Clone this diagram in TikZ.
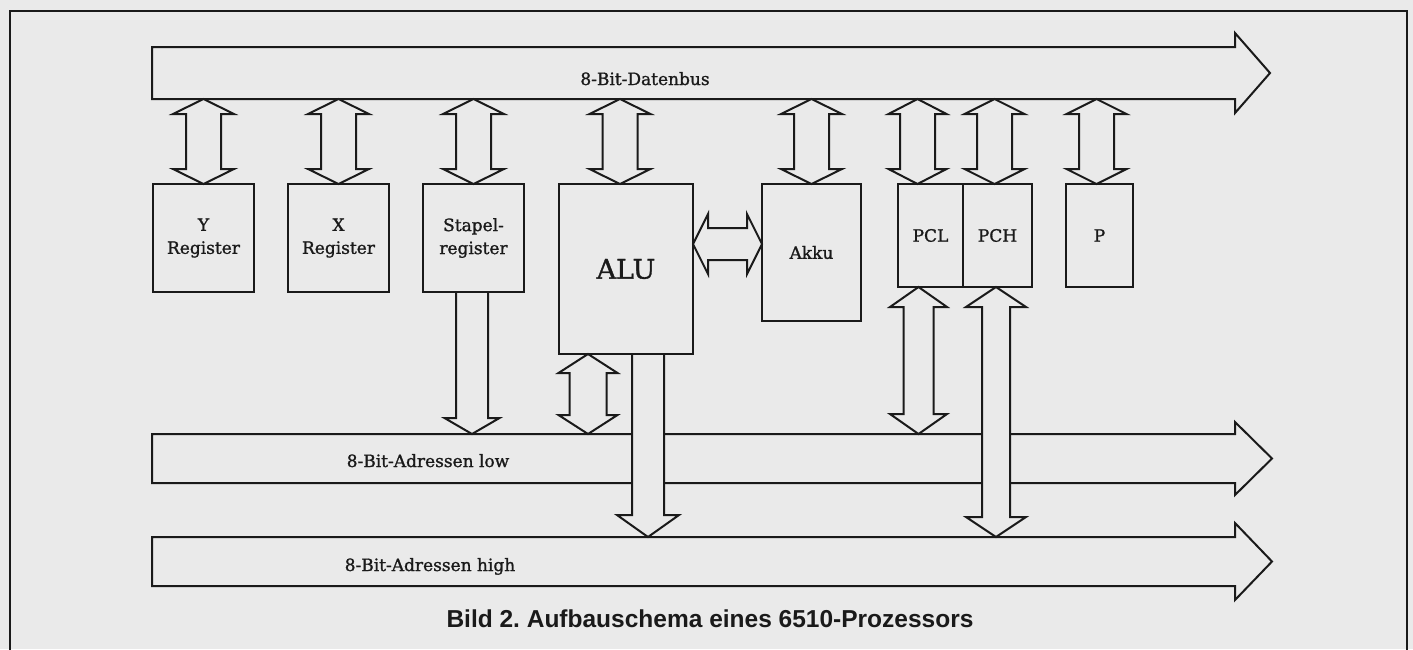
\documentclass[tikz,border=0pt]{standalone}
\usepackage{fontspec}
\setmainfont{DejaVu Serif}[FakeBold=1.2]
\newfontfamily\capfont{Liberation Sans}
\usetikzlibrary{calc}
\definecolor{paper}{HTML}{EAEAEA}
\definecolor{ink}{HTML}{1A1A1A}
\pgfdeclarelayer{bglayer}
\pgfdeclarelayer{midlayer}
\pgfsetlayers{bglayer,midlayer,main}
\tikzset{
  regbox/.style={draw=ink, line width=2pt, inner sep=0pt, outer sep=0pt, anchor=north west,
    align=center, text=ink, font=\fontsize{17}{23}\selectfont},
  busshaft/.style={inner sep=0pt, outer sep=0pt, anchor=north west},
  hollow/.style={draw=ink, fill=paper, line width=2pt, line join=miter},
  buslabel/.style={anchor=base, text=ink, font=\fontsize{17}{20}\selectfont, inner sep=0pt},
}
% vertical double arrow: #1 top tip, #2 bottom tip, #3 half shaft, #4 half head, #5 head length
\newcommand\vdbl[5]{\draw[hollow] let \p1=(#1), \p2=(#2) in
  (\x1,\y1) -- (\x1+#4pt,\y1-#5pt) -- (\x1+#3pt,\y1-#5pt) -- (\x1+#3pt,\y2+#5pt) -- (\x1+#4pt,\y2+#5pt)
  -- (\x1,\y2) -- (\x1-#4pt,\y2+#5pt) -- (\x1-#3pt,\y2+#5pt) -- (\x1-#3pt,\y1-#5pt) -- (\x1-#4pt,\y1-#5pt) -- cycle;}
% vertical single down arrow: #1 start (top), #2 tip
\newcommand\vsgl[5]{\filldraw[hollow] let \p1=(#1), \p2=(#2) in
  (\x1-#3pt,\y1) -- (\x1-#3pt,\y2+#5pt) -- (\x1-#4pt,\y2+#5pt) -- (\x1,\y2) -- (\x1+#4pt,\y2+#5pt)
  -- (\x1+#3pt,\y2+#5pt) -- (\x1+#3pt,\y1);}
% horizontal double arrow: #1 left tip, #2 right tip
\newcommand\hdbl[5]{\draw[hollow] let \p1=(#1), \p2=(#2) in
  (\x1,\y1) -- (\x1+#5pt,\y1+#4pt) -- (\x1+#5pt,\y1+#3pt) -- (\x2-#5pt,\y1+#3pt) -- (\x2-#5pt,\y1+#4pt)
  -- (\x2,\y1) -- (\x2-#5pt,\y1-#4pt) -- (\x2-#5pt,\y1-#3pt) -- (\x1+#5pt,\y1-#3pt) -- (\x1+#5pt,\y1-#4pt) -- cycle;}
% bus arrow: #1 shaft node, #2 head extension, #3 head length
\newcommand\busarrow[3]{\draw[hollow] (#1.north west) -- (#1.north east) -- ($(#1.north east)+(0,-#2)$)
  -- ($(#1.east)+(#3,0)$) -- ($(#1.south east)+(0,#2)$) -- (#1.south east) -- (#1.south west) -- cycle;}

\begin{document}
\frenchspacing
\begin{tikzpicture}[x=1pt,y=-1pt]
\useasboundingbox (0,0) rectangle (1413,649);
% registers
\node[regbox, minimum width=101pt, minimum height=108pt] (yreg) at (153,184) {Y\\Register};
\node[regbox, minimum width=101pt, minimum height=108pt] (xreg) at (288,184) {X\\Register};
\node[regbox, minimum width=101pt, minimum height=108pt] (sreg) at (423,184) {Stapel-\\register};
\node[regbox, minimum width=134pt, minimum height=170pt, font=\fontsize{27}{30}\selectfont] (alu) at (559,184) {ALU};
\node[regbox, minimum width=99pt, minimum height=137pt] (akku) at (762,184) {Akku};
\node[regbox, minimum width=65pt, minimum height=103pt] (pcl) at (898,184) {PCL};
\node[regbox, minimum width=69pt, minimum height=103pt] (pch) at (963,184) {PCH};
\node[regbox, minimum width=67pt, minimum height=103pt] (preg) at (1066,184) {P};

\begin{pgfonlayer}{bglayer}
  \fill[paper] (0,0) rectangle (1413,649);
  \draw[ink, line width=1.8pt] (10,670) -- (10,11) -- (1407,11) -- (1407,670);
  \node[busshaft, minimum width=1083pt, minimum height=52pt] (dbus) at (152,47) {};
  \node[busshaft, minimum width=1083pt, minimum height=49pt] (lbus) at (152,434) {};
  \node[busshaft, minimum width=1083pt, minimum height=49pt] (hbus) at (152,537) {};
  \busarrow{dbus}{14}{35}
  \busarrow{lbus}{12}{37}
  \busarrow{hbus}{14}{37}
  \node[buslabel] (dlab) at (645,85) {8-Bit-Datenbus};
  \node[buslabel] (llab) at (428,467) {8-Bit-Adressen low};
  \node[buslabel] (hlab) at (430,571) {8-Bit-Adressen high};
  \node[anchor=base, inner sep=0pt, text=ink, font=\capfont\bfseries\fontsize{24.5}{28}\selectfont] (cap) at (710,627)
    {Bild 2. Aufbauschema eines 6510-Prozessors};
\end{pgfonlayer}

\begin{pgfonlayer}{midlayer}
  % data bus <-> registers
  \vdbl{yreg.north |- dbus.south}{yreg.north}{17.5}{30.5}{15}
  \vdbl{xreg.north |- dbus.south}{xreg.north}{17.5}{30.5}{15}
  \vdbl{sreg.north |- dbus.south}{sreg.north}{17.5}{30.5}{15}
  \coordinate (aluin) at ($(alu.north)+(-6,0)$);
  \vdbl{aluin |- dbus.south}{aluin}{17.5}{30.5}{15}
  \vdbl{akku.north |- dbus.south}{akku.north}{17.5}{30.5}{15}
  \coordinate (pclin) at ($(pcl.north)+(-13,0)$);
  \vdbl{pclin |- dbus.south}{pclin}{17.5}{29}{15}
  \coordinate (pchin) at ($(pch.north)+(-3,0)$);
  \vdbl{pchin |- dbus.south}{pchin}{17.5}{30}{15}
  \coordinate (pin) at ($(preg.north)+(-3,0)$);
  \vdbl{pin |- dbus.south}{pin}{17.5}{30}{15}
  % ALU <-> Akku
  \coordinate (aluright) at ($(alu.north east)+(0,60)$);
  \hdbl{aluright}{aluright -| akku.west}{16}{30}{15}
  % to address buses
  \coordinate (sout) at ($(sreg.south)+(-1.5,0)$);
  \vsgl{sout}{sout |- lbus.north}{16}{27.5}{16}
  \coordinate (alulow) at ($(alu.south)+(-38,0)$);
  \vdbl{alulow}{alulow |- lbus.north}{18.5}{29.5}{19}
  \coordinate (aluhigh) at ($(alu.south)+(22,0)$);
  \vsgl{aluhigh}{aluhigh |- hbus.north}{16}{31}{22}
  \coordinate (pclout) at ($(pcl.south)+(-12,0)$);
  \vdbl{pclout}{pclout |- lbus.north}{15}{28.5}{20}
  \coordinate (pchout) at ($(pch.south)+(-1.5,0)$);
  \vdbl{pchout}{pchout |- hbus.north}{14}{30}{20}
\end{pgfonlayer}
\end{tikzpicture}
\end{document}
